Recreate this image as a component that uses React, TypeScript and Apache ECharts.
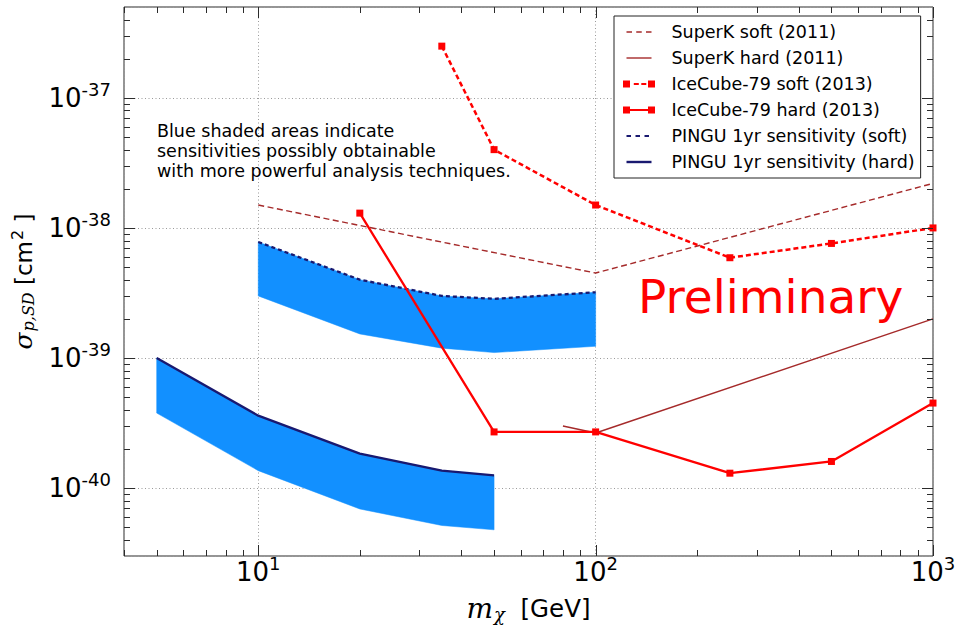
import { useEffect, useRef } from 'react';
import * as echarts from 'echarts';

// Axis ranges
const X_MIN = 4;
const X_MAX = 1000;
const Y_MIN = 3e-41;
const Y_MAX = 5e-37;
// The y axis runs in units of 1e-40 cm^2 so the log scale keeps its precision
const Y_UNIT = 1e-40;
const Y_UNIT_EXP = -40;

// Tick positions (drawn inward on all four sides)
const xMajorTicks = [10, 100, 1000];
const xMinorTicks = [4, 5, 6, 7, 8, 9, 20, 30, 40, 50, 60, 70, 80, 90, 200, 300, 400, 500, 600, 700, 800, 900];
const yMajorTicks = [1e-40, 1e-39, 1e-38, 1e-37];
const yMinorTicks = [
  4e-41, 5e-41, 6e-41, 7e-41, 8e-41, 9e-41,
  2e-40, 3e-40, 4e-40, 5e-40, 6e-40, 7e-40, 8e-40, 9e-40,
  2e-39, 3e-39, 4e-39, 5e-39, 6e-39, 7e-39, 8e-39, 9e-39,
  2e-38, 3e-38, 4e-38, 5e-38, 6e-38, 7e-38, 8e-38, 9e-38,
  2e-37, 3e-37, 4e-37,
];

// SuperK (2011)
const superKSoftX = [10, 100, 1000];
const superKSoftY = [1.5e-38, 4.5e-39, 2.2e-38];
const superKHardX = [80, 100, 1000];
const superKHardY = [3.0e-40, 2.65e-40, 2.0e-39];

// IceCube-79 (2013)
const iceSoftX = [35, 50, 100, 250, 500, 1000];
const iceSoftY = [2.5e-37, 4.0e-38, 1.5e-38, 5.9e-39, 7.6e-39, 1.0e-38];
const iceHardX = [20, 50, 100, 250, 500, 1000];
const iceHardY = [1.3e-38, 2.7e-40, 2.7e-40, 1.3e-40, 1.6e-40, 4.5e-40];

// PINGU 1yr sensitivity bands (upper edge = quoted sensitivity)
const pinguSoftX = [10, 20, 35, 50, 100];
const pinguSoftUpper = [7.8e-39, 4.0e-39, 3.0e-39, 2.85e-39, 3.2e-39];
const pinguSoftLower = [3.0e-39, 1.53e-39, 1.19e-39, 1.1e-39, 1.23e-39];
const pinguHardX = [5, 10, 20, 35, 50];
const pinguHardUpper = [1.0e-39, 3.6e-40, 1.84e-40, 1.36e-40, 1.25e-40];
const pinguHardLower = [3.77e-40, 1.36e-40, 6.9e-41, 5.15e-41, 4.77e-41];

const legendNames = [
  'SuperK soft (2011)',
  'SuperK hard (2011)',
  'IceCube-79 soft (2013)',
  'IceCube-79 hard (2013)',
  'PINGU 1yr sensitivity (soft)',
  'PINGU 1yr sensitivity (hard)',
];

const noteLines = [
  'Blue shaded areas indicate',
  'sensitivities possibly obtainable',
  'with more powerful analysis techniques.',
];

const BROWN = '#a52a2a';
const RED = '#ff0000';
const NAVY = '#191970';
const BAND = '#1290ff';
const AXIS = '#2b2b2b';
const FONT = 'DejaVu Sans';
const MATH = 'DejaVu Serif';

// Legend glyphs in a 32x8 box (moveTo corners fix the box size)
const BOX = 'M0,0M32,8';
const legendIcons = [
  `path://${BOX}M3.5,3.3h5.5v1.4h-5.5zM13.25,3.3h5.5v1.4h-5.5zM23,3.3h5.5v1.4h-5.5z`,
  `path://${BOX}M3.5,3.3h25v1.4h-25z`,
  `path://${BOX}M0,0.5h7v7h-7zM25,0.5h7v7h-7zM10.8,2.9h5v2.2h-5zM18.3,2.9h5v2.2h-5z`,
  `path://${BOX}M0,0.5h7v7h-7zM25,0.5h7v7h-7zM3.5,2.9h25v2.2h-25z`,
  `path://${BOX}M3.5,2.9h4.5v2.2h-4.5zM12.5,2.9h4.5v2.2h-4.5zM21.5,2.9h4.5v2.2h-4.5z`,
  `path://${BOX}M3.5,2.8h25v2.4h-25z`,
];

const sy = (v: number) => v / Y_UNIT;
const zip = (xs: number[], ys: number[]) => xs.map((x, i) => [x, sy(ys[i])]);

const powerLabel = (offset: number) => (v: number) => {
  const e = Math.log10(v);
  const r = Math.round(e);
  if (Math.abs(e - r) > 1e-6) return '';
  return `{b|10}{s|${r + offset}}`;
};

const tickRich = {
  b: { fontFamily: FONT, fontSize: 26, lineHeight: 28, color: '#000' },
  s: { fontFamily: FONT, fontSize: 18, lineHeight: 18, color: '#000', padding: [0, 0, 17, 0] },
};

const gridLine = { show: true, lineStyle: { color: '#9a9a9a', width: 1, type: [1, 2.5] as any } };

const bandRenderer = (xs: number[], lo: number[], hi: number[], color: string) =>
  (params: any, api: any) => {
    if (params.dataIndex !== 0) return null;
    const top = xs.map((x, i) => api.coord([x, sy(hi[i])]));
    const bottom = xs.map((x, i) => api.coord([x, sy(lo[i])])).reverse();
    return {
      type: 'polygon',
      shape: { points: top.concat(bottom) },
      style: { fill: color, stroke: color, lineWidth: 0.5 },
    };
  };

const tickData = [
  ...xMinorTicks.map((v) => [v, sy(Y_MIN), 0]),
  ...xMajorTicks.map((v) => [v, sy(Y_MIN), 1]),
  ...yMinorTicks.map((v) => [X_MIN, sy(v), 2]),
  ...yMajorTicks.map((v) => [X_MIN, sy(v), 3]),
];

const renderTick = (params: any, api: any) => {
  const cs = params.coordSys;
  const kind = api.value(2);
  const len = kind % 2 === 1 ? 11 : 6;
  const p = api.coord([api.value(0), api.value(1)]);
  const style = { stroke: AXIS, lineWidth: 1 };
  if (kind < 2) {
    const x = Math.round(p[0]) + 0.5;
    const yb = cs.y + cs.height;
    return {
      type: 'group',
      children: [
        { type: 'line', shape: { x1: x, y1: yb, x2: x, y2: yb - len }, style },
        { type: 'line', shape: { x1: x, y1: cs.y, x2: x, y2: cs.y + len }, style },
      ],
    };
  }
  const y = Math.round(p[1]) + 0.5;
  const xr = cs.x + cs.width;
  return {
    type: 'group',
    children: [
      { type: 'line', shape: { x1: cs.x, y1: y, x2: cs.x + len, y2: y }, style },
      { type: 'line', shape: { x1: xr, y1: y, x2: xr - len, y2: y }, style },
    ],
  };
};

const option: any = {
  animation: false,
  backgroundColor: '#fff',
  grid: {
    left: 124,
    top: 7,
    width: 809,
    height: 549,
    show: true,
    borderColor: AXIS,
    borderWidth: 1,
    backgroundColor: 'transparent',
    containLabel: false,
    outerBoundsMode: 'none',
  },
  xAxis: {
    type: 'log',
    logBase: 10,
    min: X_MIN,
    max: X_MAX,
    axisLine: { show: false },
    axisTick: { show: false },
    splitLine: gridLine,
    axisLabel: { interval: 0, margin: 2, formatter: powerLabel(0), rich: tickRich },
    name: '{m|m}{c|χ}{t|  [GeV]}',
    nameLocation: 'middle',
    nameGap: 37,
    nameTextStyle: {
      rich: {
        m: { fontFamily: MATH, fontStyle: 'italic', fontSize: 28, lineHeight: 30, color: '#000' },
        c: { fontFamily: MATH, fontStyle: 'italic', fontSize: 18, lineHeight: 18, color: '#000', padding: [11, 0, 0, 1] },
        t: { fontFamily: FONT, fontSize: 24.5, lineHeight: 30, color: '#000' },
      },
    },
  },
  yAxis: {
    type: 'log',
    logBase: 10,
    min: sy(Y_MIN),
    max: sy(Y_MAX),
    axisLine: { show: false },
    axisTick: { show: false },
    splitLine: gridLine,
    axisLabel: { interval: 0, margin: 13, formatter: powerLabel(Y_UNIT_EXP), rich: tickRich },
    name: '{g|σ}{p|p,SD}{t| [cm}{q|2}{t| ]}',
    nameLocation: 'middle',
    nameRotate: 90,
    nameGap: 85,
    nameTextStyle: {
      rich: {
        g: { fontFamily: MATH, fontStyle: 'italic', fontSize: 25, lineHeight: 30, color: '#000' },
        p: { fontFamily: MATH, fontStyle: 'italic', fontSize: 16, lineHeight: 16, color: '#000', padding: [10, 0, 0, 1] },
        t: { fontFamily: FONT, fontSize: 23, lineHeight: 30, color: '#000' },
        q: { fontFamily: FONT, fontSize: 16, lineHeight: 16, color: '#000', padding: [0, 0, 12, 1] },
      },
    },
  },
  legend: {
    orient: 'vertical',
    left: 614,
    top: 16,
    padding: [6, 6, 6, 9],
    itemGap: 6,
    itemWidth: 32,
    itemHeight: 8,
    backgroundColor: '#fff',
    borderColor: '#222',
    borderWidth: 1,
    borderRadius: 0,
    selectedMode: false,
    textStyle: { fontFamily: FONT, fontSize: 17.5, color: '#000', lineHeight: 20, padding: [0, 0, 0, 11.5] },
    data: legendNames.map((name, i) => ({ name, icon: legendIcons[i], itemStyle: { borderWidth: 0 } })),
  },
  graphic: [
    {
      type: 'text',
      left: 157,
      top: 121,
      z: 10,
      style: { text: noteLines.join('\n'), fontFamily: FONT, fontSize: 17.5, lineHeight: 20, fill: '#000' },
    },
    {
      type: 'text',
      left: 638,
      top: 268,
      z: 10,
      style: { text: 'Preliminary', fontFamily: FONT, fontSize: 47, lineHeight: 56, fill: RED },
    },
  ],
  series: [
    {
      type: 'custom',
      name: 'PINGU band (soft)',
      z: 1,
      renderItem: bandRenderer(pinguSoftX, pinguSoftLower, pinguSoftUpper, BAND),
      data: pinguSoftX.map((x, i) => [x, sy(pinguSoftLower[i]), sy(pinguSoftUpper[i])]),
      silent: true,
    },
    {
      type: 'custom',
      name: 'PINGU band (hard)',
      z: 1,
      renderItem: bandRenderer(pinguHardX, pinguHardLower, pinguHardUpper, BAND),
      data: pinguHardX.map((x, i) => [x, sy(pinguHardLower[i]), sy(pinguHardUpper[i])]),
      silent: true,
    },
    {
      type: 'line',
      name: legendNames[4],
      z: 2,
      data: zip(pinguSoftX, pinguSoftUpper),
      symbol: 'none',
      color: NAVY,
      lineStyle: { color: NAVY, width: 2.3, type: [4, 3] },
    },
    {
      type: 'line',
      name: legendNames[5],
      z: 2,
      data: zip(pinguHardX, pinguHardUpper),
      symbol: 'none',
      color: NAVY,
      lineStyle: { color: NAVY, width: 2.3 },
    },
    {
      type: 'line',
      name: legendNames[0],
      z: 3,
      data: zip(superKSoftX, superKSoftY),
      symbol: 'none',
      color: BROWN,
      lineStyle: { color: BROWN, width: 1.4, type: [6, 3.5] },
    },
    {
      type: 'line',
      name: legendNames[1],
      z: 3,
      data: zip(superKHardX, superKHardY),
      symbol: 'none',
      color: BROWN,
      lineStyle: { color: BROWN, width: 1.4 },
    },
    {
      type: 'line',
      name: legendNames[2],
      z: 4,
      data: zip(iceSoftX, iceSoftY),
      symbol: 'rect',
      symbolSize: 7,
      showSymbol: true,
      color: RED,
      itemStyle: { color: RED, borderWidth: 0 },
      lineStyle: { color: RED, width: 2.5, type: [5, 3] },
    },
    {
      type: 'line',
      name: legendNames[3],
      z: 4,
      data: zip(iceHardX, iceHardY),
      symbol: 'rect',
      symbolSize: 7,
      showSymbol: true,
      color: RED,
      itemStyle: { color: RED, borderWidth: 0 },
      lineStyle: { color: RED, width: 2.3 },
    },
    {
      type: 'custom',
      name: 'ticks',
      z: 5,
      silent: true,
      renderItem: renderTick,
      data: tickData,
    },
  ],
};

export default function App() {
  const ref = useRef<HTMLDivElement>(null);
  useEffect(() => {
    const chart = echarts.init(ref.current!, null, { renderer: 'svg' });
    chart.setOption(option);
    return () => chart.dispose();
  }, []);
  return (
    <div
      ref={ref}
      style={{ position: 'fixed', left: 0, top: 0, width: 955, height: 627, background: '#fff' }}
    />
  );
}
